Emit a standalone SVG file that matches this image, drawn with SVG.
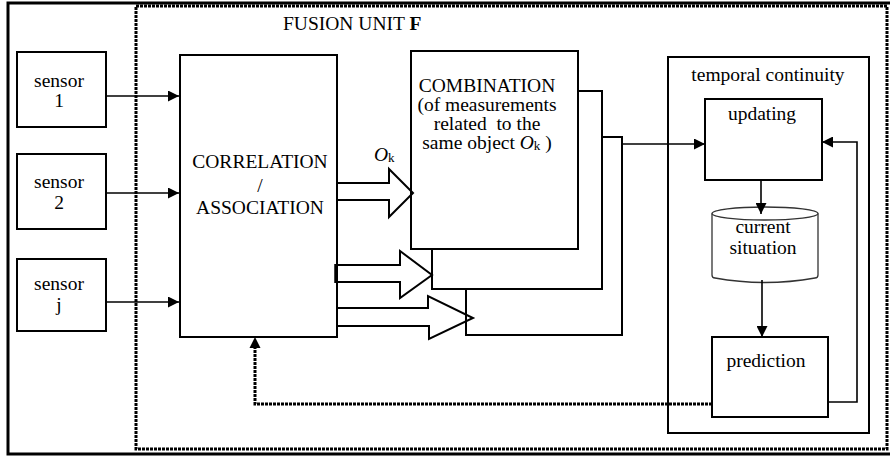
<svg xmlns="http://www.w3.org/2000/svg" width="890" height="456" viewBox="0 0 890 456">
  <style>
    text { font-family: "Liberation Serif", "Times New Roman", serif; font-size: 19.5px; fill: #000; }
    .c { text-anchor: middle; }
    .box { fill: #fff; stroke: #000; stroke-width: 2; }
    .thin { fill: none; stroke: #000; stroke-width: 1.6; }
    .block { fill: none; stroke: #000; stroke-width: 2; stroke-linejoin: miter; }
    .dot { fill: none; stroke: #000; stroke-width: 3; stroke-dasharray: 3 1; }
  </style>
  <defs>
    <marker id="head" viewBox="0 0 11 11" refX="11" refY="5.5" markerWidth="11" markerHeight="11" markerUnits="userSpaceOnUse" orient="auto">
      <path d="M0,0 L11,5.5 L0,11 z" fill="#000"/>
    </marker>
  </defs>

  <!-- outer frame -->
  <path d="M893,3 H8 V454 H893" fill="none" stroke="#000" stroke-width="3"/>
  <!-- fusion unit boundary -->
  <rect x="136" y="6" width="751" height="443" class="dot"/>
  <text x="283" y="30">FUSION UNIT <tspan font-weight="bold">F</tspan></text>

  <!-- sensors -->
  <g id="sensor1">
    <rect x="17" y="52" width="89" height="75" class="box" stroke-width="1.8"/>
    <text x="59" y="87" class="c">sensor</text>
    <text x="59" y="107" class="c">1</text>
  </g>
  <g id="sensor2">
    <rect x="17" y="154" width="89" height="75" class="box" stroke-width="1.8"/>
    <text x="59" y="188" class="c">sensor</text>
    <text x="59" y="209" class="c">2</text>
  </g>
  <g id="sensorj">
    <rect x="17" y="259" width="89" height="72" class="box" stroke-width="1.8"/>
    <text x="59" y="290" class="c">sensor</text>
    <text x="59" y="311" class="c">j</text>
  </g>

  <!-- correlation / association -->
  <g id="correlation">
    <rect x="180" y="55" width="157" height="282" class="box"/>
    <text x="260" y="168" class="c">CORRELATION</text>
    <text x="260" y="192" class="c">/</text>
    <text x="260" y="214" class="c">ASSOCIATION</text>
  </g>

  <!-- stacked combination boxes -->
  <g id="combination3">
    <rect x="466" y="137" width="156" height="198" class="box"/>
  </g>
  <g id="combination2">
    <rect x="432" y="91" width="170" height="198" class="box"/>
  </g>
  <g id="combination">
    <rect x="411" y="51" width="167" height="198" class="box"/>
    <text x="487" y="92" class="c">COMBINATION</text>
    <text x="487" y="111" class="c">(of measurements</text>
    <text x="487" y="130" class="c" xml:space="preserve">related  to the</text>
    <text x="487" y="149" class="c">same object <tspan font-style="italic">O</tspan><tspan font-size="13" dy="1">k</tspan><tspan dy="-1"> )</tspan></text>
  </g>

  <!-- temporal continuity -->
  <g id="temporal">
    <rect x="668" y="57" width="201" height="376" class="box"/>
    <text x="768" y="81" class="c">temporal continuity</text>
  </g>
  <g id="updating">
    <rect x="705" y="99" width="117" height="81" class="box"/>
    <text x="762" y="120" class="c">updating</text>
  </g>
  <g id="situation">
    <path d="M712,213.5 V275 q0,3 3,3 Q765,287 815,278 q3,0 3,-3 V213.5" fill="#fff" stroke="#333" stroke-width="1.3"/>
    <ellipse cx="765" cy="213.5" rx="53" ry="6.5" fill="#fff" stroke="#333" stroke-width="1.3"/>
    <text x="763" y="233" class="c">current</text>
    <text x="763" y="254" class="c">situation</text>
  </g>
  <g id="prediction">
    <rect x="712" y="337" width="116" height="80" class="box"/>
    <text x="766" y="367" class="c">prediction</text>
  </g>

  <!-- connectors -->
  <g id="connectors">
    <line x1="106" y1="96" x2="179" y2="96" class="thin" marker-end="url(#head)"/>
    <line x1="107" y1="193" x2="179" y2="193" class="thin" marker-end="url(#head)"/>
    <line x1="106" y1="302" x2="179" y2="302" class="thin" marker-end="url(#head)"/>

    <!-- hollow block arrows for object tracks -->
    <path d="M337,183 H389 V169 L413,193 L389,217 V200 H337" class="block"/>
    <text x="374" y="161"><tspan font-style="italic">O</tspan><tspan font-size="13" dy="1">k</tspan></text>
    <line x1="336" y1="264" x2="336" y2="283" stroke="#000" stroke-width="3.5"/>
    <path d="M337,265 H400 V251 L432,275 L400,298 V282 H337" class="block"/>
    <path d="M337,308 H428 V296 L473,318 L429,339 V326 H337" class="block"/>

    <line x1="622" y1="144" x2="705" y2="144" class="thin" marker-end="url(#head)"/>
    <line x1="761" y1="180" x2="761" y2="214" class="thin" marker-end="url(#head)"/>
    <line x1="762" y1="280" x2="762" y2="337" class="thin" marker-end="url(#head)"/>
    <polyline points="828,402 857,402 857,142 822,142" class="thin" marker-end="url(#head)"/>

    <!-- dotted feedback to correlation -->
    <polyline points="712,404 255,404 255,348" class="dot"/>
    <path d="M249.5,348 L255,337 L260.5,348 z" fill="#000"/>
  </g>
</svg>
